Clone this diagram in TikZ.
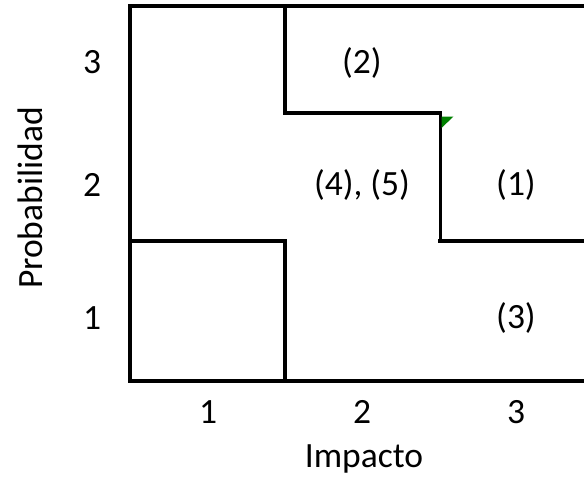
\documentclass[tikz,border=0pt]{standalone}
\usepackage{fontspec}
\setmainfont{Carlito}
\begin{document}
\begin{tikzpicture}[x=1pt,y=-1pt,
  grid/.style={line width=4pt,line join=miter,line cap=rect},
  lbl/.style={font=\fontsize{35.5}{38}\selectfont,inner sep=0pt,anchor=center}]
\useasboundingbox (0,0) rectangle (584,477);
% frame and zone borders
\draw[grid] (584,6) -- (130,6) -- (130,381) -- (584,381);
\draw[grid] (285,6) -- (285,113) -- (440,113);
\draw[line width=3pt] (440,113) -- (440,241);
\draw[grid] (440,241) -- (584,241);
\draw[grid] (130,241) -- (285,241) -- (285,381);
% small corner marker
\fill[green!50!black] (441.5,116.5) -- (453.5,116.5) -- (441.5,128) -- cycle;
% axis tick labels
\node[lbl] (p3) at (92,62) {3};
\node[lbl] (p2) at (92,185) {2};
\node[lbl] (p1) at (92,318) {1};
\node[lbl] (i1) at (208,412) {1};
\node[lbl] (i2) at (362,412) {2};
\node[lbl] (i3) at (516,412) {3};
% axis titles
\node[lbl,anchor=base] (ximp) at (364,467) {Impacto};
\node[lbl,rotate=90] (yprob) at (30,198) {Probabilidad};
% zone labels
\node[lbl] (z2) at (362,63) {(2)};
\node[lbl] (z45) at (362,185) {(4), (5)};
\node[lbl] (z1) at (516,185) {(1)};
\node[lbl] (z3) at (516,318) {(3)};
\end{tikzpicture}
\end{document}
